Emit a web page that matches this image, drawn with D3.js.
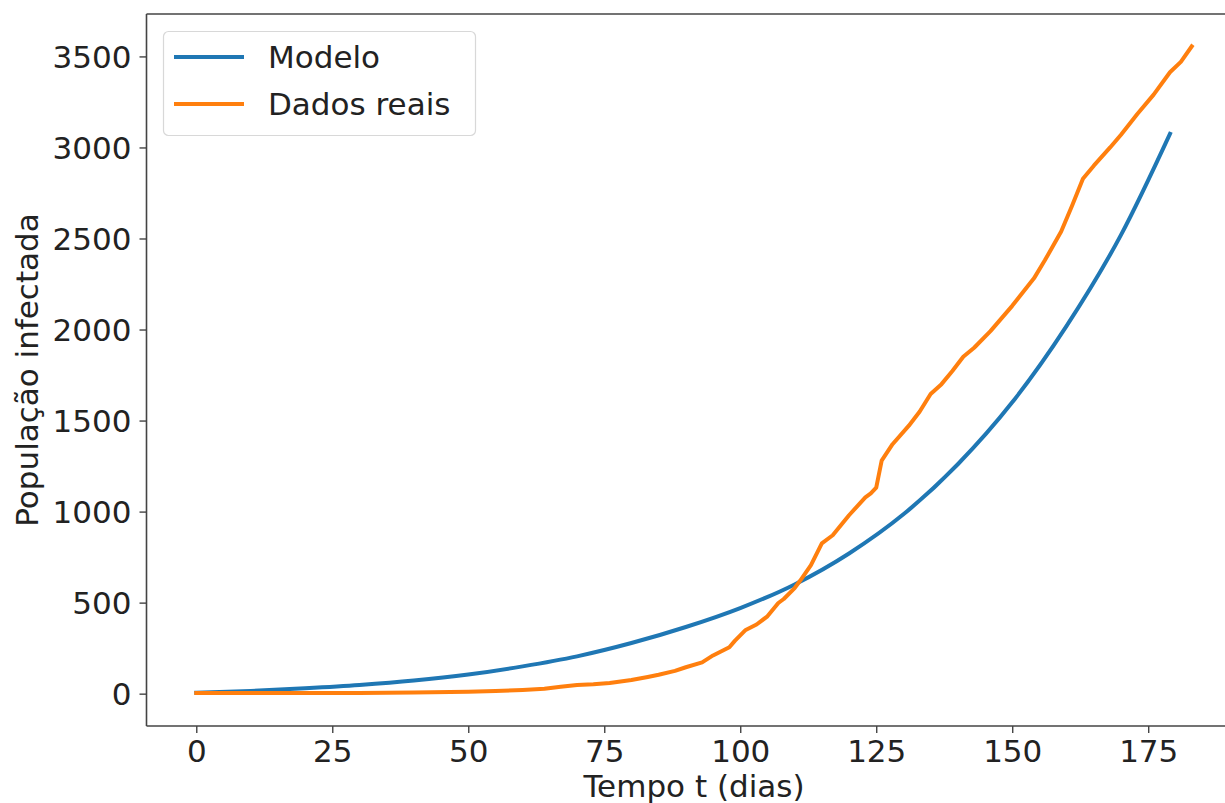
<!DOCTYPE html>
<html>
<head>
<meta charset="utf-8">
<script src="https://cdn.jsdelivr.net/npm/d3@7"></script>
<style>
  html, body { margin: 0; padding: 0; background: #fff; overflow: hidden; }
  svg { display: block; overflow: hidden; }
  text { font-family: "DejaVu Sans", sans-serif; fill: #222; }
</style>
</head>
<body>
<svg id="chart" width="1225" height="803"></svg>
<script>
// ---- data ----
const modelDays   = [0, 10, 20, 30, 40, 50, 60, 70, 80, 90, 100, 110, 120, 130, 140, 150, 160, 170, 179];
const modelValues = [5, 15, 30, 48, 72, 105, 150, 205, 278, 366, 470, 600, 770, 985, 1260, 1600, 2020, 2520, 3075];

const realDays   = [0, 10, 20, 30, 40, 50, 55, 60, 64, 67, 70, 73, 76, 80, 83, 85, 88, 90, 93, 95, 98, 99, 101, 103, 105, 107, 108, 110, 111, 113, 115, 117, 120, 123, 124, 125, 126, 128, 131, 133, 135, 137, 139, 141, 143, 146, 150, 154, 156, 159, 161, 163, 165, 168, 170, 173, 176, 179, 181, 183];
const realValues = [3, 3, 3, 4, 6, 10, 14, 20, 27, 38, 48, 52, 58, 75, 92, 104, 125, 145, 172, 210, 255, 290, 350, 380, 425, 498, 520, 580, 620, 706, 826, 870, 980, 1078, 1100, 1132, 1280, 1370, 1472, 1550, 1646, 1700, 1772, 1850, 1900, 1991, 2130, 2281, 2380, 2538, 2680, 2828, 2900, 3000, 3070, 3184, 3290, 3413, 3470, 3555];

const xTicks = [0, 25, 50, 75, 100, 125, 150, 175];
const yTicks = [0, 500, 1000, 1500, 2000, 2500, 3000, 3500];
const seriesNames = ["Modelo", "Dados reais"];
const seriesColors = ["#1f77b4", "#ff7f0e"];
const xLabel = "Tempo t (dias)";
const yLabel = "População infectada";

// ---- layout ----
const svg = d3.select("#chart");
const W = 1225;
const pLeft = 146.5, pRight = 1241.5, pTop = 14, pBottom = 726;
const fontSize = 31;

const x = d3.scaleLinear().domain([-9.15, 192.15]).range([pLeft, pRight]);
const y = d3.scaleLinear().domain([-177.6, 3733]).range([pBottom, pTop]);

// lines
const modelData = modelDays.map((d, i) => [d, modelValues[i]]);
const realData = realDays.map((d, i) => [d, realValues[i]]);

const plot = svg.append("g");
plot.append("path").datum(modelData)
  .attr("d", d3.line().x(d => x(d[0])).y(d => y(d[1])).curve(d3.curveMonotoneX))
  .attr("fill", "none").attr("stroke", seriesColors[0])
  .attr("stroke-width", 4).attr("stroke-linejoin", "round").attr("stroke-linecap", "square");
plot.append("path").datum(realData)
  .attr("d", d3.line().x(d => x(d[0])).y(d => y(d[1])).curve(d3.curveLinear))
  .attr("fill", "none").attr("stroke", seriesColors[1])
  .attr("stroke-width", 4).attr("stroke-linejoin", "round").attr("stroke-linecap", "square");

// spines (the right spine falls outside the picture; top/bottom run to the edge)
const spineColor = "#444";
const spines = [
  [pLeft, pTop, pLeft, pBottom],
  [pLeft, pBottom, W + 2, pBottom],
  [pLeft, pTop, W + 2, pTop]
];
spines.forEach(s => {
  svg.append("line").attr("x1", s[0]).attr("y1", s[1]).attr("x2", s[2]).attr("y2", s[3])
    .attr("stroke", spineColor).attr("stroke-width", 1.6).attr("stroke-linecap", "butt");
});

// axes
const fmt = d3.format("d");
const xAxis = d3.axisBottom(x).tickValues(xTicks).tickFormat(fmt).tickSize(7).tickPadding(7).tickSizeOuter(0);
const gx = svg.append("g").attr("transform", `translate(0,${pBottom})`).call(xAxis);
gx.select(".domain").remove();
gx.selectAll(".tick line").attr("stroke", spineColor).attr("stroke-width", 1.4);
gx.selectAll(".tick text").attr("font-size", fontSize).attr("fill", "#222")
  .attr("font-family", "DejaVu Sans, sans-serif").attr("dy", "0.72em");

const yAxis = d3.axisLeft(y).tickValues(yTicks).tickFormat(fmt).tickSize(7).tickPadding(8).tickSizeOuter(0);
const gy = svg.append("g").attr("transform", `translate(${pLeft},0)`).call(yAxis);
gy.select(".domain").remove();
gy.selectAll(".tick line").attr("stroke", spineColor).attr("stroke-width", 1.4);
gy.selectAll(".tick text").attr("font-size", fontSize).attr("fill", "#222")
  .attr("font-family", "DejaVu Sans, sans-serif").attr("dy", "0.36em");

// axis labels
svg.append("text").attr("x", (pLeft + pRight) / 2).attr("y", 797)
  .attr("text-anchor", "middle").attr("font-size", fontSize).text(xLabel);
svg.append("text")
  .attr("transform", `translate(38,${(pTop + pBottom) / 2}) rotate(-90)`)
  .attr("text-anchor", "middle").attr("font-size", fontSize).text(yLabel);

// legend
const lg = svg.append("g");
lg.append("rect").attr("x", 163.5).attr("y", 31.5).attr("width", 312).attr("height", 104)
  .attr("rx", 5).attr("fill", "#fff").attr("fill-opacity", 0.85)
  .attr("stroke", "#d8d8d8").attr("stroke-width", 1.2);
const legendY = [57, 104];
seriesNames.forEach((name, i) => {
  lg.append("line").attr("x1", 174).attr("x2", 244).attr("y1", legendY[i]).attr("y2", legendY[i])
    .attr("stroke", seriesColors[i]).attr("stroke-width", 4);
  lg.append("text").attr("x", 268).attr("y", legendY[i] + 10.5)
    .attr("font-size", fontSize).text(name);
});
</script>
</body>
</html>
